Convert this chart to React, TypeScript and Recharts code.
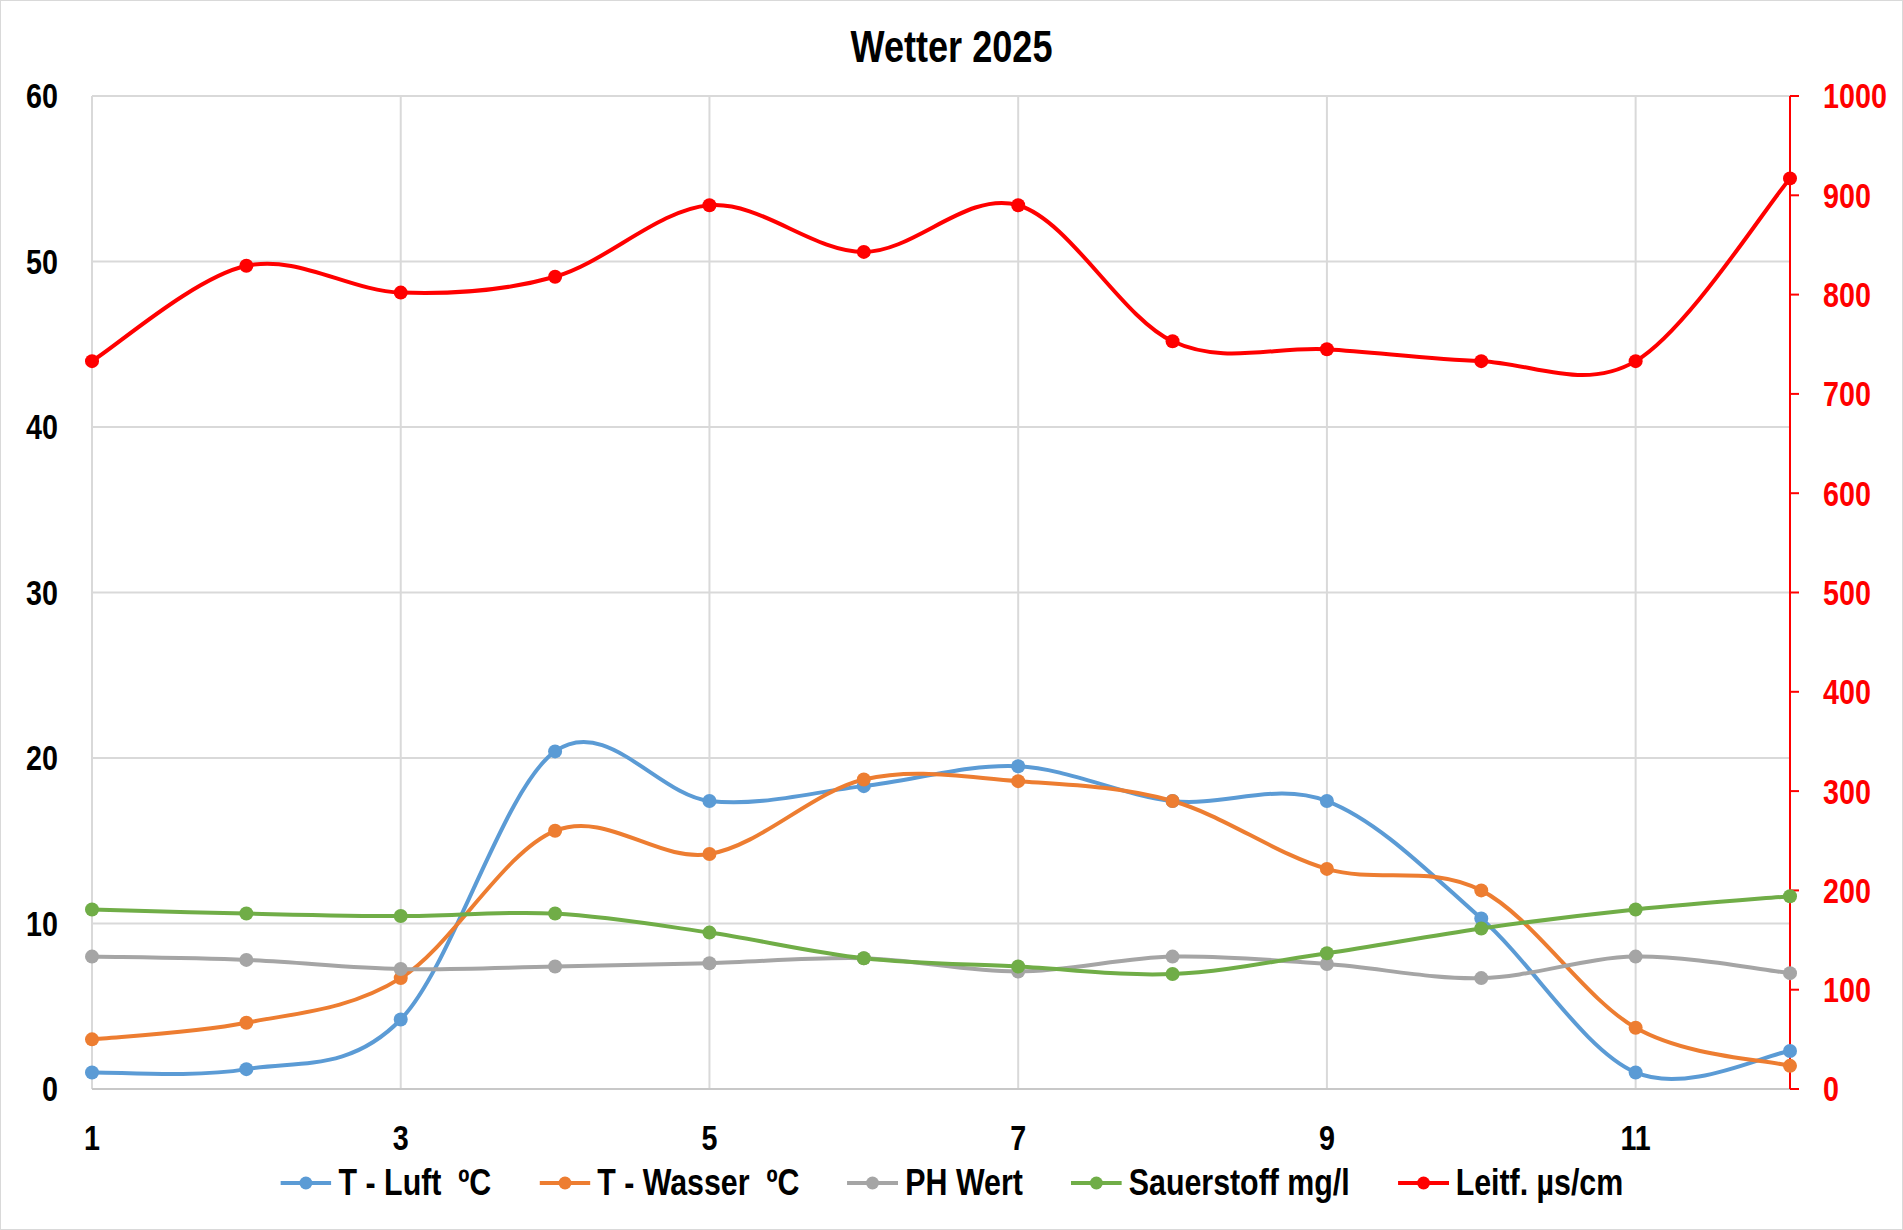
import React from "react";
import { CartesianGrid, Legend, Line, LineChart, XAxis, YAxis } from "recharts";

// Messungen 1..12
const messungen = [1, 2, 3, 4, 5, 6, 7, 8, 9, 10, 11, 12];
const tLuft = [1.0, 1.2, 4.2, 20.4, 17.4, 18.3, 19.5, 17.4, 17.4, 10.3, 1.0, 2.3];
const tWasser = [3.0, 4.0, 6.7, 15.6, 14.2, 18.7, 18.6, 17.4, 13.3, 12.0, 3.7, 1.4];
const phWert = [8.0, 7.8, 7.25, 7.4, 7.6, 7.9, 7.1, 8.0, 7.55, 6.7, 8.0, 7.0];
const sauerstoff = [10.85, 10.6, 10.45, 10.6, 9.45, 7.9, 7.4, 6.95, 8.2, 9.7, 10.85, 11.65];
const leitf = [733, 829, 802, 818, 890, 843, 890, 753, 745, 733, 733, 917];

const xTicks = [1, 3, 5, 7, 9, 11];
const leftTicks = [0, 10, 20, 30, 40, 50, 60];
const rightTicks = [0, 100, 200, 300, 400, 500, 600, 700, 800, 900, 1000];

const series = [
  { key: "tLuft", name: "T - Luft  ºC", color: "#5B9BD5", axis: "left" },
  { key: "tWasser", name: "T - Wasser  ºC", color: "#ED7D31", axis: "left" },
  { key: "phWert", name: "PH Wert", color: "#A5A5A5", axis: "left" },
  { key: "sauerstoff", name: "Sauerstoff mg/l", color: "#70AD47", axis: "left" },
  { key: "leitf", name: "Leitf. µs/cm", color: "#FF0000", axis: "right" },
];

const data = messungen.map((m, i) => ({
  x: m,
  tLuft: tLuft[i],
  tWasser: tWasser[i],
  phWert: phWert[i],
  sauerstoff: sauerstoff[i],
  leitf: leitf[i],
}));

// no Arial Narrow here: squeeze Liberation Sans Bold instead
const FONT = "'Liberation Sans', Arial, sans-serif";
const NARROW = 0.82;

// Excel-style smoothed line (Catmull-Rom as cubic beziers)
function excelCurve(context: any) {
  let pts: number[][] = [];
  return {
    areaStart() {},
    areaEnd() {},
    lineStart() {
      pts = [];
    },
    point(x: number, y: number) {
      pts.push([+x, +y]);
    },
    lineEnd() {
      if (!pts.length) return;
      context.moveTo(pts[0][0], pts[0][1]);
      for (let i = 0; i < pts.length - 1; i++) {
        const p0 = pts[i - 1] || pts[i];
        const p1 = pts[i];
        const p2 = pts[i + 1];
        const p3 = pts[i + 2] || p2;
        context.bezierCurveTo(
          p1[0] + (p2[0] - p0[0]) / 6,
          p1[1] + (p2[1] - p0[1]) / 6,
          p2[0] - (p3[0] - p1[0]) / 6,
          p2[1] - (p3[1] - p1[1]) / 6,
          p2[0],
          p2[1]
        );
      }
    },
  };
}

function narrowTick(fill: string, dy: string) {
  return (props: any) => {
    const { x, y, payload, textAnchor } = props;
    return (
      <text
        transform={`translate(${x},${y}) scale(${NARROW},1)`}
        textAnchor={textAnchor}
        dy={dy}
        fill={fill}
        fontFamily={FONT}
        fontWeight="bold"
        fontSize={35}
      >
        {payload.value}
      </text>
    );
  };
}

function ExcelLegend() {
  const iconW = 51 / NARROW;
  return (
    <div style={{ height: 70, display: "flex", justifyContent: "center", alignItems: "flex-start" }}>
      <div
        style={{
          display: "flex",
          alignItems: "center",
          paddingTop: 4,
          transform: `scaleX(${NARROW})`,
          transformOrigin: "center",
          fontFamily: FONT,
          fontWeight: "bold",
          fontSize: 37,
          color: "#000",
          whiteSpace: "nowrap",
        }}
      >
        {series.map((s) => (
          <div key={s.key} style={{ display: "flex", alignItems: "center", margin: `0 ${24 / NARROW}px`, lineHeight: "40px" }}>
            <svg width={iconW} height={16}>
              <line x1={0} y1={8} x2={iconW} y2={8} stroke={s.color} strokeWidth={4} />
              <ellipse cx={iconW / 2} cy={8} rx={6.5 / NARROW} ry={6.5} fill={s.color} />
            </svg>
            <span style={{ marginLeft: 7 / NARROW, whiteSpace: "pre" }}>{s.name}</span>
          </div>
        ))}
      </div>
    </div>
  );
}

export default function App() {
  return (
    <div
      style={{
        position: "relative",
        width: 1903,
        height: 1230,
        border: "1px solid #D9D9D9",
        boxSizing: "border-box",
        background: "#fff",
      }}
    >
      <style>{`body{margin:0}`}</style>
      <div
        style={{
          position: "absolute",
          top: 21,
          left: 0,
          width: "100%",
          textAlign: "center",
          fontFamily: FONT,
          fontWeight: "bold",
          fontSize: 44,
          lineHeight: "50px",
          transform: `scaleX(${NARROW})`,
        }}
      >
        Wetter 2025
      </div>
      <LineChart width={1901} height={1228} data={data} margin={{ top: 95, right: 0, bottom: 0, left: 0 }}>
        <CartesianGrid yAxisId="left" stroke="#D9D9D9" strokeWidth={2} />
        <XAxis
          dataKey="x"
          type="number"
          domain={[1, 12]}
          ticks={xTicks}
          interval={0}
          height={70}
          tickLine={false}
          tickMargin={30}
          axisLine={{ stroke: "#C8C8C8", strokeWidth: 2 }}
          tick={narrowTick("#000", "0.71em")}
        />
        <YAxis
          yAxisId="left"
          domain={[0, 60]}
          ticks={leftTicks}
          width={91}
          axisLine={false}
          tickLine={false}
          tickMargin={28}
          tick={narrowTick("#000", "0.355em")}
        />
        <YAxis
          yAxisId="right"
          orientation="right"
          domain={[0, 1000]}
          ticks={rightTicks}
          width={112}
          axisLine={{ stroke: "#FF0000", strokeWidth: 2 }}
          tickLine={{ stroke: "#FF0000", strokeWidth: 2 }}
          tickSize={9}
          tickMargin={24}
          tick={narrowTick("#FF0000", "0.355em")}
        />
        <Legend verticalAlign="bottom" content={() => <ExcelLegend />} />
        {series.map((s) => (
          <Line
            key={s.key}
            yAxisId={s.axis}
            dataKey={s.key}
            name={s.name}
            type={excelCurve as any}
            stroke={s.color}
            strokeWidth={4}
            dot={{ r: 7, fill: s.color, stroke: s.color, strokeWidth: 0 }}
            activeDot={false}
            isAnimationActive={false}
          />
        ))}
      </LineChart>
    </div>
  );
}
